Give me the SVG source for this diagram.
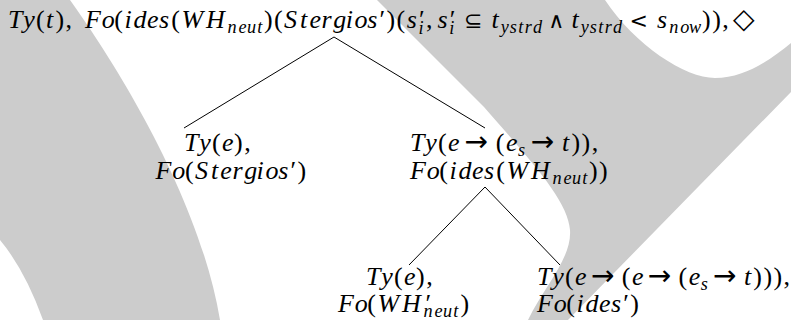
<svg xmlns="http://www.w3.org/2000/svg" width="791" height="320" viewBox="0 0 791 320">
<style>
.bg{fill:#cccccc}
text{font-family:'Liberation Serif','Times New Roman',serif;font-size:26px;fill:#000}
.i{font-style:italic}
.s{font-size:18.2px;font-style:italic}
.sym{font-family:'DejaVu Sans',sans-serif;font-size:22px;font-style:normal}
.arr{font-family:'DejaVu Sans',sans-serif;font-size:28px;font-style:normal}
.dia{font-family:'DejaVu Sans',sans-serif;font-size:28px}
.e{stroke:#000;stroke-width:1;fill:none}
</style>
<rect width="791" height="320" fill="#ffffff"/>
<g id="background">
<path class="bg" d="M0,0 L70,0 C120,70 200,200 220,320 L43,320 Q25,270 0,240 Z"/>
<path class="bg" d="M377,0 L605,0 C635,45 685,78 715,78 C745,78 770,60 791,43 L791,92 L568,320 L528,320 C545,285 572,258 570,230 C568,200 530,160 484,107 L377,0 Z"/>
</g>
<g id="connectors">
<path class="e" d="M334,37 L184,128"/>
<path class="e" d="M334,37 L485,128"/>
<path class="e" d="M485,187 L409,265"/>
<path class="e" d="M485,187 L560,265"/>
</g>
<g id="root">
<text y="28"><tspan class="i" x="8 23.2">Ty</tspan><tspan x="35.9">(</tspan><tspan class="i" x="46">t</tspan><tspan x="55.4 65.5">),</tspan><tspan class="i" x="85 101.7">Fo</tspan><tspan x="114.3">(</tspan><tspan class="i" x="124.4 133.4 146.9 159">ides</tspan><tspan x="171.2">(</tspan><tspan class="i" x="181.4 205.9">WH</tspan><tspan class="s" x="227.5 238.4 246.9 257.3" y="32.5">neut</tspan><tspan x="263.9 274" y="28">)(</tspan><tspan class="i" x="284.1 300 309.4 321.5 333.3 345.7 354.6 367.3">Stergios</tspan><tspan x="379.5 386.5 396.6">′)(</tspan><tspan class="i" x="406.7">s</tspan><tspan x="418.9">′</tspan><tspan class="s" x="418.5" y="34">i</tspan><tspan x="425.9" y="28">,</tspan><tspan class="i" x="437.5">s</tspan><tspan x="449.7">′</tspan><tspan class="s" x="449.3" y="34">i</tspan><tspan class="sym" x="463.9" y="28">⊆</tspan><tspan class="i" x="491.4">t</tspan><tspan class="s" x="500.8 509.7 518.2 524.8 533" y="32.5">ystrd</tspan><tspan class="sym" x="548.2" y="28">∧</tspan><tspan class="i" x="571.4">t</tspan><tspan class="s" x="580.7 589.7 598.2 604.8 613" y="32.5">ystrd</tspan><tspan class="sym" x="629.5" y="28">&lt;</tspan><tspan class="i" x="657.1">s</tspan><tspan class="s" x="669.3 680.2 689.1" y="32.5">now</tspan><tspan x="702.1 712.2 722.3" y="28">)),</tspan><tspan class="dia" x="733" y="28">◇</tspan></text>
</g>
<g id="node-stergios">
<text y="151"><tspan class="i" x="184 199.2">Ty</tspan><tspan x="211.9">(</tspan><tspan class="i" x="222">e</tspan><tspan x="234.1 244.2">),</tspan></text>
<text y="179"><tspan class="i" x="155.6 172.3">Fo</tspan><tspan x="184.9">(</tspan><tspan class="i" x="195 210.9 220.3 232.4 244.2 256.6 265.6 278.2">Stergios</tspan><tspan x="290.4 297.4">′)</tspan></text>
</g>
<g id="node-ides-wh">
<text y="151"><tspan class="i" x="410 425.2">Ty</tspan><tspan x="437.9">(</tspan><tspan class="i" x="448">e</tspan><tspan class="arr" x="464.5">→</tspan><tspan x="495.8">(</tspan><tspan class="i" x="505.9">e</tspan><tspan class="s" x="518" y="155.5">s</tspan><tspan class="arr" x="530.8" y="151">→</tspan><tspan class="i" x="562.1">t</tspan><tspan x="571.5 581.6 591.7">)),</tspan></text>
<text y="179"><tspan class="i" x="410 426.7">Fo</tspan><tspan x="439.3">(</tspan><tspan class="i" x="449.4 458.4 471.9 484">ides</tspan><tspan x="496.2">(</tspan><tspan class="i" x="506.4 530.9">WH</tspan><tspan class="s" x="552.5 563.4 571.9 582.3" y="183.5">neut</tspan><tspan x="588.9 599" y="179">))</tspan></text>
</g>
<g id="node-wh">
<text y="285"><tspan class="i" x="366 381.2">Ty</tspan><tspan x="393.9">(</tspan><tspan class="i" x="404">e</tspan><tspan x="416.1 426.2">),</tspan></text>
<text y="312"><tspan class="i" x="338 354.7">Fo</tspan><tspan x="367.3">(</tspan><tspan class="i" x="377.4 401.9">WH</tspan><tspan x="425.5">′</tspan><tspan class="s" x="423.5 434.4 442.9 453.3" y="317">neut</tspan><tspan x="460.5" y="312">)</tspan></text>
</g>
<g id="node-ides">
<text y="285"><tspan class="i" x="537 552.2">Ty</tspan><tspan x="564.9">(</tspan><tspan class="i" x="575">e</tspan><tspan class="arr" x="591">→</tspan><tspan x="621.8">(</tspan><tspan class="i" x="631.9">e</tspan><tspan class="arr" x="647.8">→</tspan><tspan x="678.6">(</tspan><tspan class="i" x="688.7">e</tspan><tspan class="s" x="700.8" y="289.5">s</tspan><tspan class="arr" x="713.1" y="285">→</tspan><tspan class="i" x="743.9">t</tspan><tspan x="753.3 763.4 773.5 783.6">))),</tspan></text>
<text y="312"><tspan class="i" x="537 553.7">Fo</tspan><tspan x="566.3">(</tspan><tspan class="i" x="576.4 585.4 598.9 611">ides</tspan><tspan x="623.2 630.2">′)</tspan></text>
</g>
</svg>
